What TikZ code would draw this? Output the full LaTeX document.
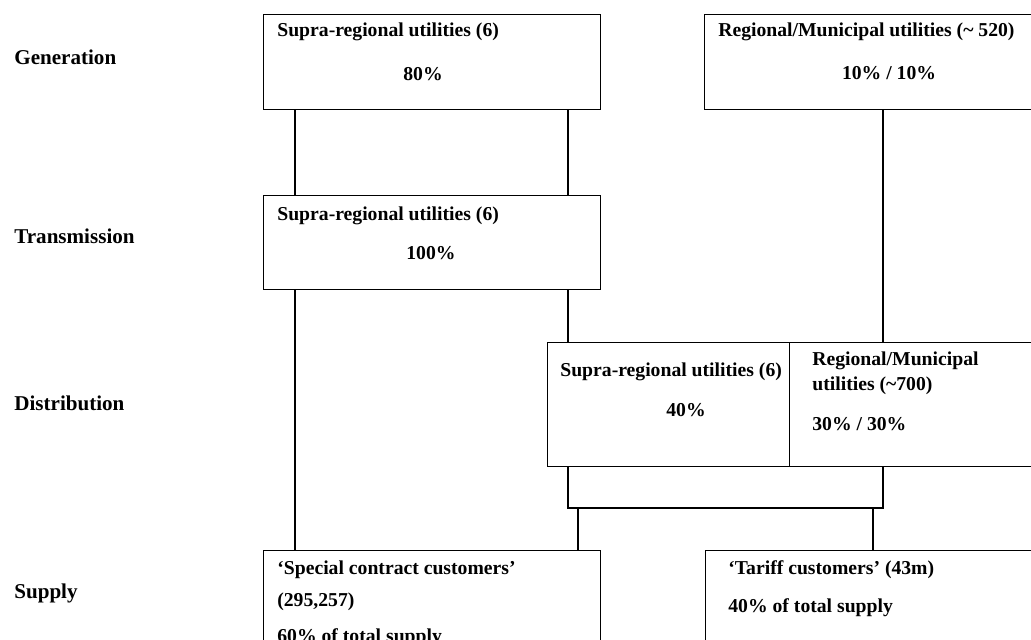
\documentclass[tikz,border=0pt]{standalone}
\usepackage{fontspec}
\setmainfont{Liberation Serif}
\usepackage{tikz}

\begin{document}
\begin{tikzpicture}[
    x=0.02cm, y=-0.02cm,
    box/.style={draw, line width=0.8pt, anchor=north west, inner sep=0pt},
    txt/.style={anchor=west, inner sep=0pt, font=\fontsize{11.2}{13}\selectfont\bfseries},
    num/.style={inner sep=0pt, font=\fontsize{11.2}{13}\selectfont\bfseries},
    row/.style={anchor=west, inner sep=0pt, font=\fontsize{12}{14}\selectfont\bfseries},
    link/.style={line width=0.8pt}
]
\useasboundingbox (0,0) rectangle (1031,639);
\clip (0,0) rectangle (1031,639);

% Row labels
\node[row] (lgen)   at (14, 57)  {Generation};
\node[row] (ltrans) at (14, 236) {Transmission};
\node[row] (ldist)  at (14, 403) {Distribution};
\node[row] (lsup)   at (14, 593) {Supply};

% Generation
\node[box, minimum width=6.74cm, minimum height=1.9cm]  (gen1) at (263, 14) {};
\node[txt] (gen1a) at (277, 32) {Supra-regional utilities (6)};
\node[num] (gen1b) at (423, 74) {80\%};
\node[box, minimum width=7.12cm, minimum height=1.9cm]  (gen2) at (704, 14) {};
\node[txt] (gen2a) at (718, 32) {Regional/Municipal utilities (\char`\~{} 520)};
\node[num] (gen2b) at (889, 73) {10\% / 10\%};

% Transmission
\node[box, minimum width=6.74cm, minimum height=1.88cm] (trans) at (263, 195) {};
\node[txt] (transa) at (277, 216) {Supra-regional utilities (6)};
\node[num] (transb) at (431, 253) {100\%};

% Distribution
\node[box, minimum width=4.84cm, minimum height=2.48cm] (dist1) at (547, 342) {};
\node[txt] (dist1a) at (560, 372) {Supra-regional utilities (6)};
\node[num] (dist1b) at (686, 410) {40\%};
\node[box, minimum width=5.42cm, minimum height=2.48cm] (dist2) at (789, 342) {};
\node[txt] (dist2a) at (812, 361) {Regional/Municipal};
\node[txt] (dist2b) at (812, 386) {utilities (\char`\~700)};
\node[txt] (dist2c) at (812, 424) {30\% / 30\%};

% Supply
\node[box, minimum width=6.74cm, minimum height=3cm] (sup1) at (263, 550) {};
\node[txt] (sup1a) at (277, 570) {`Special contract customers'};
\node[txt] (sup1b) at (277, 602) {(295,257)};
\node[txt] (sup1c) at (277, 638) {60\% of total supply};
\node[box, minimum width=7.1cm, minimum height=3cm]  (sup2) at (705, 550) {};
\node[txt] (sup2a) at (728, 570) {`Tariff customers' (43m)};
\node[txt] (sup2b) at (728, 608) {40\% of total supply};

% Connectors
\coordinate (colA) at (295, 0);
\coordinate (colB) at (568, 0);
\coordinate (colC) at (883, 0);
\coordinate (colD) at (578, 0);
\coordinate (colE) at (873, 0);
\coordinate (join) at (0, 508);

\draw[link] (gen1.south -| colA)  -- (trans.north -| colA);
\draw[link] (gen1.south -| colB)  -- (trans.north -| colB);
\draw[link] (trans.south -| colA) -- (sup1.north -| colA);
\draw[link] (trans.south -| colB) -- (dist1.north -| colB);
\draw[link] (gen2.south -| colC)  -- (dist2.north -| colC);
\draw[link] (dist1.south -| colB) -- (join -| colB) -- (join -| colC) -- (dist2.south -| colC);
\draw[link] (join -| colD) -- (sup1.north -| colD);
\draw[link] (join -| colE) -- (sup2.north -| colE);
\end{tikzpicture}
\end{document}
